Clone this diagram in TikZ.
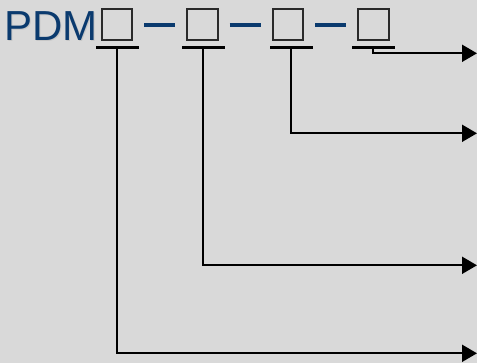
\documentclass[tikz,border=0pt]{standalone}
\usepackage{fontspec}
\setmainfont{Liberation Sans}
\usetikzlibrary{arrows.meta,calc}
\definecolor{bg}{HTML}{D9D9D9}
\definecolor{navy}{HTML}{0A3A6E}
\definecolor{boxc}{HTML}{2A2A2A}
\begin{document}
\begin{tikzpicture}[x=1pt,y=-1pt,
  sq/.style={draw=boxc, line width=1.6pt, minimum size=30.5pt, inner sep=0pt},
  ul/.style={line width=3.2pt, black},
  dashbar/.style={line width=4pt, navy},
  conn/.style={line width=1.9pt, black, -{Triangle[length=15pt,width=17pt]}}]
\fill[bg] (0,0) rectangle (477,363);
\useasboundingbox (0,0) rectangle (477,363);
\node[anchor=base west, text=black!22, font=\fontsize{42}{42}\selectfont, inner sep=0pt] (pdmshadow) at (5.3,41.8) {PDM};
\node[anchor=base west, text=navy, font=\fontsize{42}{42}\selectfont, inner sep=0pt] (pdm) at (4,40.5) {PDM};
\node[sq] (b1) at (117,24.5) {};
\node[sq] (b2) at (202.5,24.5) {};
\node[sq] (b3) at (288,24.5) {};
\node[sq] (b4) at (373.5,24.5) {};
\foreach \a/\b in {b1/b2,b2/b3,b3/b4}
  \draw[dashbar] ($(\a.east)+(11,0.5)$) -- ($(\b.west)+(-11,0.5)$);
\coordinate (u1) at (117,47.5);
\coordinate (u2) at (203,47.5);
\coordinate (u3) at (291,47.5);
\coordinate (u4) at (373,47.5);
\foreach \u in {u1,u2,u3,u4}
  \draw[ul] ($(\u)+(-21,0)$) -- ($(\u)+(22,0)$);
\coordinate (e1) at (477,53.3);
\coordinate (e2) at (477,133.3);
\coordinate (e3) at (477,265.3);
\coordinate (e4) at (477,353.3);
\draw[conn] (u4) |- (e1);
\draw[conn] (u3) |- (e2);
\draw[conn] (u2) |- (e3);
\draw[conn] (u1) |- (e4);
\end{tikzpicture}
\end{document}
